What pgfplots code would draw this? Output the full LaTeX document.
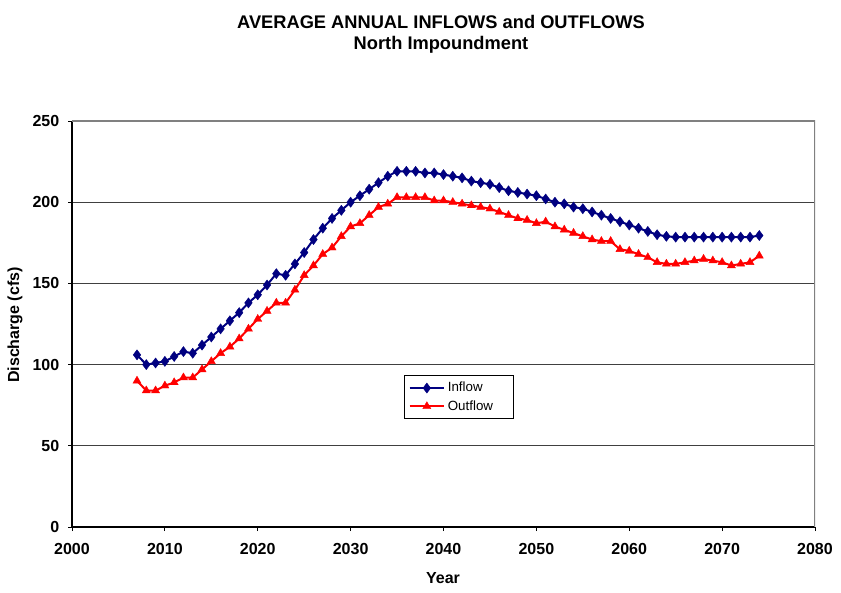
\documentclass[border=0pt]{standalone}
\usepackage{pgfplots}
\pgfplotsset{compat=1.18}
\usepackage{fontspec}
\setmainfont{Liberation Sans}
\definecolor{inflowc}{RGB}{0,0,128}
\definecolor{outflowc}{RGB}{255,0,0}
\begin{document}
\begin{tikzpicture}
\useasboundingbox (-54pt,-48.75pt) rectangle (576.75pt,395.25pt);
\begin{axis}[
  at={(0pt,0pt)}, anchor=south west,
  scale only axis, width=557.25pt, height=304.5pt,
  xmin=2000, xmax=2080, ymin=0, ymax=250,
  xtick={2000,2010,...,2080}, ytick={0,50,...,250},
  /pgf/number format/assume math mode=true,
  /pgf/number format/1000 sep={},
  ticklabel style={font=\fontsize{12}{14}\selectfont\bfseries},
  xticklabel style={yshift=-6pt},
  yticklabel style={xshift=-3pt},
  tick align=outside, major tick length=3pt,
  tick style={black, line width=0.6pt},
  xtick pos=bottom, ytick pos=left,
  ymajorgrids, grid style={black!75, line width=0.6pt},
  axis x line*=bottom, axis y line*=left,
  axis line style={black, line width=0.8pt},
  legend style={at={(0.447,0.374)}, anchor=north west, draw=black, line width=0.6pt,
    font=\fontsize{10}{12}\selectfont, inner sep=3pt, row sep=1pt},
  legend cell align=left,
  legend image code/.code={\draw[mark repeat=2,mark phase=2] plot coordinates {(0pt,0pt)(13pt,0pt)(26pt,0pt)};},
]
\draw[black!50, line width=0.8pt] (axis cs:2000,250) -- (axis cs:2080,250) -- (axis cs:2080,0);
\addplot[inflowc, line width=1.5pt, mark=diamond*, mark size=3.8pt, mark options={solid, line width=0.3pt}] coordinates {
(2007,106)(2008,100)(2009,101)(2010,102)(2011,105)(2012,108)(2013,107)(2014,112)(2015,117)(2016,122)
(2017,127)(2018,132)(2019,138)(2020,143)(2021,149)(2022,156)(2023,155)(2024,162)(2025,169)(2026,177)
(2027,184)(2028,190)(2029,195)(2030,200)(2031,204)(2032,208)(2033,212)(2034,216)(2035,219)(2036,219)
(2037,219)(2038,218)(2039,218)(2040,217)(2041,216)(2042,215)(2043,213)(2044,212)(2045,211)(2046,209)
(2047,207)(2048,206)(2049,205)(2050,204)(2051,202)(2052,200)(2053,199)(2054,197)(2055,196)(2056,194)
(2057,192)(2058,190)(2059,188)(2060,186)(2061,184)(2062,182)(2063,180)(2064,179)(2065,178.5)(2066,178.5)
(2067,178.5)(2068,178.5)(2069,178.5)(2070,178.5)(2071,178.5)(2072,178.5)(2073,178.5)(2074,179.5)
};
\addlegendentry{Inflow\hspace{10pt}\mbox{}}
\addplot[outflowc, line width=1.5pt, mark=triangle*, mark size=3.5pt, mark options={solid, line width=0.3pt}] coordinates {
(2007,90)(2008,84)(2009,84)(2010,87)(2011,89)(2012,92)(2013,92)(2014,97)(2015,102)(2016,107)
(2017,111)(2018,116)(2019,122)(2020,128)(2021,133)(2022,138)(2023,138)(2024,146)(2025,155)(2026,161)
(2027,168)(2028,172)(2029,179)(2030,185)(2031,187)(2032,192)(2033,197)(2034,199)(2035,203)(2036,203)
(2037,203)(2038,203)(2039,201)(2040,201)(2041,200)(2042,199)(2043,198)(2044,197)(2045,196)(2046,194)
(2047,192)(2048,190)(2049,189)(2050,187)(2051,188)(2052,185)(2053,183)(2054,181)(2055,179)(2056,177)
(2057,176)(2058,176)(2059,171)(2060,170)(2061,168)(2062,166)(2063,163)(2064,162)(2065,162)(2066,163)
(2067,164)(2068,165)(2069,164)(2070,163)(2071,161)(2072,162)(2073,163)(2074,167)
};
\addlegendentry{Outflow\hspace{10pt}\mbox{}}
\end{axis}
\node[font=\fontsize{13.7}{16}\selectfont\bfseries] at (276.75pt,378.75pt) {AVERAGE ANNUAL INFLOWS and OUTFLOWS};
\node[font=\fontsize{13.7}{16}\selectfont\bfseries] at (276.75pt,361.5pt) {North Impoundment};
\node[font=\fontsize{12}{14}\selectfont\bfseries, rotate=90] at (-42.75pt,151.5pt) {Discharge (cfs)};
\node[font=\fontsize{12}{14}\selectfont\bfseries] at (278.25pt,-38.25pt) {Year};
\end{tikzpicture}
\end{document}
